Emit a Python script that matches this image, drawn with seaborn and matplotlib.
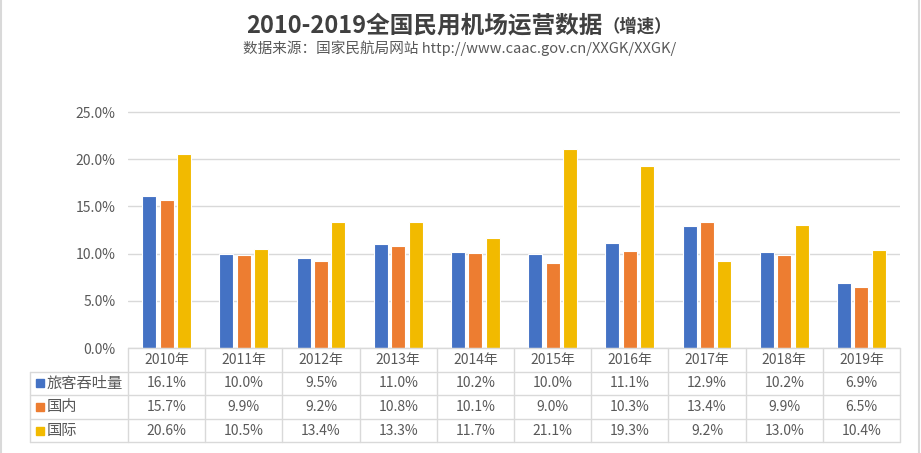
import matplotlib
matplotlib.use('Agg')
import matplotlib.pyplot as plt
import matplotlib.transforms as mtransforms
from matplotlib.lines import Line2D
import seaborn as sns
import pandas as pd

# ---- data ----
years = ['2010年', '2011年', '2012年', '2013年', '2014年',
         '2015年', '2016年', '2017年', '2018年', '2019年']
series_names = ['旅客吞吐量', '国内', '国际']
passenger = [16.1, 10.0, 9.5, 11.0, 10.2, 10.0, 11.1, 12.9, 10.2, 6.9]
domestic = [15.7, 9.9, 9.2, 10.8, 10.1, 9.0, 10.3, 13.4, 9.9, 6.5]
international = [20.6, 10.5, 13.4, 13.3, 11.7, 21.1, 19.3, 9.2, 13.0, 10.4]
yticks = [0, 5, 10, 15, 20, 25]

title_main = '2010-2019全国民用机场运营数据'
title_small = '（增速）'
subtitle = '数据来源：国家民航局网站 http://www.caac.gov.cn/XXGK/XXGK/'

colors = ['#4472C4', '#ED7D31', '#F2BA00']
text_gray = '#595959'
line_gray = '#D9D9D9'

series_values = [passenger, domestic, international]
df = pd.DataFrame({
    'year': years * 3,
    'series': [s for s in series_names for _ in years],
    'value': passenger + domestic + international,
})

sns.set_theme(style='white')
plt.rcParams['font.family'] = ['Noto Sans CJK SC', 'DejaVu Sans']

W, H = 921, 453
fig = plt.figure(figsize=(W / 100, H / 100), dpi=100)
ax_left, ax_bottom, ax_w, ax_h = 128, 348, 772, 236.9
ax = fig.add_axes([ax_left / W, 1 - ax_bottom / H, ax_w / W, ax_h / H])

sns.barplot(data=df, x='year', y='value', hue='series', hue_order=series_names,
            palette=colors, saturation=1, width=0.68, gap=0.2,
            edgecolor='white', linewidth=0.8, ax=ax, legend=False)

ax.set_xlim(-0.5, len(years) - 0.5)
ax.set_ylim(0, 25.1)
ax.set_yticks(yticks)
ax.set_yticklabels([f'{v:.1f}%' for v in yticks])
ax.set_xticks([])
ax.set_xlabel('')
ax.set_ylabel('')
ax.grid(axis='y', color=line_gray, linewidth=1)
ax.set_axisbelow(True)
for sp in ax.spines.values():
    sp.set_visible(False)
ax.tick_params(axis='y', length=0, pad=9, labelsize=10, labelcolor=text_gray)

# ---- data table below the axes ----
trans = mtransforms.blended_transform_factory(ax.transData, ax.transAxes)
px = 1.0 / ax_h  # one pixel in axes-fraction (vertical)
row_h = 23.6 * px
cat_w_px = ax_w / len(years)
label_left = -0.5 - 98 / cat_w_px
n_rows = 4
rows_y = [-i * row_h for i in range(n_rows + 1)]

# horizontal lines
ax.add_line(Line2D([-0.5, len(years) - 0.5], [0, 0], transform=trans,
                   color=line_gray, lw=1, clip_on=False))
for y in rows_y[1:]:
    ax.add_line(Line2D([label_left, len(years) - 0.5], [y, y], transform=trans,
                       color=line_gray, lw=1, clip_on=False))
# vertical lines
for i in range(len(years) + 1):
    x = i - 0.5
    ax.add_line(Line2D([x, x], [0, rows_y[-1]], transform=trans,
                       color=line_gray, lw=1, clip_on=False))
ax.add_line(Line2D([label_left, label_left], [rows_y[1], rows_y[-1]], transform=trans,
                   color=line_gray, lw=1, clip_on=False))

# header row
for i, yr in enumerate(years):
    ax.text(i, -0.5 * row_h, yr, transform=trans, ha='center', va='center',
            fontsize=10, color=text_gray, clip_on=False)
# data rows
for r, (name, vals, c) in enumerate(zip(series_names, series_values, colors)):
    yc = -(r + 1.5) * row_h
    sq_x = label_left + 9.5 / cat_w_px
    ax.add_line(Line2D([sq_x], [yc], transform=trans, marker='s', markersize=6,
                       color=c, linestyle='none', clip_on=False))
    ax.text(label_left + 16.5 / cat_w_px, yc, name, transform=trans, ha='left',
            va='center', fontsize=11, color=text_gray, clip_on=False)
    for i, v in enumerate(vals):
        ax.text(i, yc, f'{v:.1f}%', transform=trans, ha='center', va='center',
                fontsize=10, color=text_gray, clip_on=False)

# ---- titles ----
fig.text(603 / W, 1 - 32 / H, title_main, ha='right', va='baseline',
         fontsize=17, fontweight='bold', color='#404040')
fig.text(603 / W, 1 - 32 / H, title_small, ha='left', va='baseline',
         fontsize=12.5, fontweight='bold', color='#404040')
fig.text(460 / W, 1 - 53 / H, subtitle, ha='center', va='baseline',
         fontsize=10.5, color=text_gray)

# ---- frame lines ----
fig.add_artist(Line2D([1 / W, 1 / W], [0, 1], transform=fig.transFigure,
                      color=line_gray, lw=1.5))
fig.add_artist(Line2D([919 / W, 919 / W], [0, 1], transform=fig.transFigure,
                      color=line_gray, lw=1.5))

fig.savefig('out.png', dpi=100, facecolor='white')
